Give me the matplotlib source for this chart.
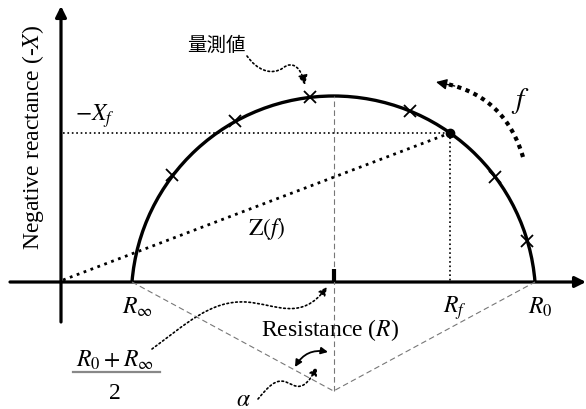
import numpy as np
import matplotlib
matplotlib.use("Agg")
import matplotlib.pyplot as plt
from matplotlib.patches import Arc, FancyArrowPatch
from matplotlib.path import Path

plt.rcParams['font.family'] = ['Liberation Serif', 'DejaVu Serif']
plt.rcParams['mathtext.fontset'] = 'stix'

# Valeurs du diagramme (unités arbitraires, origine au croisement des axes)
R_inf = 71
R_0 = 474
R_f = 389
X_f = 149
X_peak = 186          # hauteur maximale de l'arc
alpha_depth = -109    # sommet de l'angle alpha sous l'axe

# Points mesurés (croix)
meas_R = [111, 174, 249, 349, 434, 466]
meas_X = [107, 161, 185, 171, 105, 41]

# Géométrie de l'arc
R_mid = (R_0 + R_inf) / 2
half = (R_0 - R_inf) / 2
radius = (half ** 2 + X_peak ** 2) / (2 * X_peak)
depth = radius - X_peak
theta0 = np.degrees(np.arcsin(depth / radius))

fig = plt.figure(figsize=(5.86, 4.10), dpi=100)
ax = fig.add_axes([0, 0, 1, 1])
ax.set_xlim(-61, 525)
ax.set_ylim(-127, 283)
ax.axis('off')

# Axes avec flèches
ax.add_patch(FancyArrowPatch((-51, 0), (525, 0), arrowstyle='-|>', mutation_scale=16,
                             lw=2.3, color='black', shrinkA=0, shrinkB=0))
ax.add_patch(FancyArrowPatch((0, -40), (0, 276), arrowstyle='-|>', mutation_scale=16,
                             lw=2.3, color='black', shrinkA=0, shrinkB=0))

# Lignes pointillées grises (angle alpha)
ax.plot([R_inf, R_mid, R_0], [0, alpha_depth, 0], color='#777777', lw=0.8,
        ls=(0, (5, 3)))
ax.plot([R_mid, R_mid], [alpha_depth, X_peak], color='#777777', lw=0.8,
        ls=(0, (5, 3)))

# Arc de Cole
ax.add_patch(Arc((R_mid, -depth), 2 * radius, 2 * radius, theta1=theta0,
                 theta2=180 - theta0, lw=2.4, color='black'))

# Marque du centre
ax.plot([R_mid, R_mid], [0, 13], color='black', lw=3, solid_capstyle='butt')

# Z(f) et projections
ax.plot([2, R_f], [2, X_f], color='black', lw=2, ls=':')
ax.plot([2, R_f], [X_f, X_f], color='black', lw=1.2, ls=':')
ax.plot([R_f, R_f], [X_f, 0], color='black', lw=1.2, ls=':')
ax.plot([R_f], [X_f], 'o', color='black', markersize=6)

# Croix des mesures
ax.plot(meas_R, meas_X, 'x', color='black', markersize=9, mew=1.3)

# Flèche de fréquence (courbe de Bézier quadratique en pointillés + pointe)
f_start = np.array([462, 125])
f_end = np.array([375, 200])
f_ctrl = (f_start + f_end) / 2 + 0.32 * np.array([f_end[1] - f_start[1],
                                                  -(f_end[0] - f_start[0])])
t = np.linspace(0, 0.9, 60)[:, None]
curve = (1 - t) ** 2 * f_start + 2 * (1 - t) * t * f_ctrl + t ** 2 * f_end
ax.plot(curve[:, 0], curve[:, 1], color='black', lw=3, ls=(0, (1, 1.1)))
ax.add_patch(FancyArrowPatch(tuple(curve[-4]), tuple(f_end), arrowstyle='-|>',
                             mutation_scale=16, lw=1, color='black',
                             shrinkA=0, shrinkB=0))

# Annotation 量測値
p1 = Path([(186, 226), (196, 212), (210, 206), (222, 214),
           (232, 222), (240, 214), (244, 197)],
          [Path.MOVETO, Path.CURVE4, Path.CURVE4, Path.CURVE4,
           Path.CURVE4, Path.CURVE4, Path.CURVE4])
ax.add_patch(FancyArrowPatch(path=p1, arrowstyle='-|>', mutation_scale=14, lw=1.2,
                             ls=':', color='black'))

# Annotation (R0+Rinf)/2
p2 = Path([(91, -67), (125, -42), (150, -18), (185, -20),
           (215, -22), (240, -40), (266, -5)],
          [Path.MOVETO, Path.CURVE4, Path.CURVE4, Path.CURVE4,
           Path.CURVE4, Path.CURVE4, Path.CURVE4])
ax.add_patch(FancyArrowPatch(path=p2, arrowstyle='-|>', mutation_scale=12, lw=1.2,
                             ls=':', color='black'))

# Annotation alpha
p3 = Path([(197, -117), (207, -105), (215, -96), (225, -100),
           (235, -104), (242, -112), (256, -85)],
          [Path.MOVETO, Path.CURVE4, Path.CURVE4, Path.CURVE4,
           Path.CURVE4, Path.CURVE4, Path.CURVE4])
ax.add_patch(FancyArrowPatch(path=p3, arrowstyle='-|>', mutation_scale=12, lw=1.2,
                             ls=':', color='black'))

# Double flèche de l'angle
ax.add_patch(FancyArrowPatch((234, -85), (267, -70), connectionstyle='arc3,rad=-0.35',
                             arrowstyle='<|-|>', mutation_scale=10, lw=1.3,
                             color='black', shrinkA=0, shrinkB=0))

# Textes
ax.text(-28, 146, 'Negative reactance (-$X$)', rotation=90, fontsize=17,
        ha='center', va='center')
ax.text(269, -47, 'Resistance ($R$)', fontsize=17, ha='center', va='center')
ax.text(155, 238, '量測値', fontsize=14, family=['Noto Sans CJK JP'],
        ha='center', va='center')
ax.text(34, 167, r'$-X_f$', fontsize=17, ha='center', va='center')
ax.text(76, -24, r'$R_\infty$', fontsize=17, ha='center', va='center')
ax.text(394, -25, r'$R_f$', fontsize=17, ha='center', va='center')
ax.text(479, -24, r'$R_0$', fontsize=17, ha='center', va='center')
ax.text(206, 54, r'$\mathrm{Z}(f)$', fontsize=17, ha='center', va='center')
ax.text(459, 182, r'$f$', fontsize=21, ha='center', va='center')
ax.text(182, -118, r'$\alpha$', fontsize=17, ha='center', va='center')

# Fraction (R0 + Rinf)/2
ax.text(54, -77, r'$R_0+R_\infty$', fontsize=17, ha='center', va='center')
ax.plot([12, 99], [-90, -90], color='#888888', lw=1.6)
ax.text(54, -111, '2', fontsize=17, ha='center', va='center')

fig.savefig('out.png', dpi=100)
